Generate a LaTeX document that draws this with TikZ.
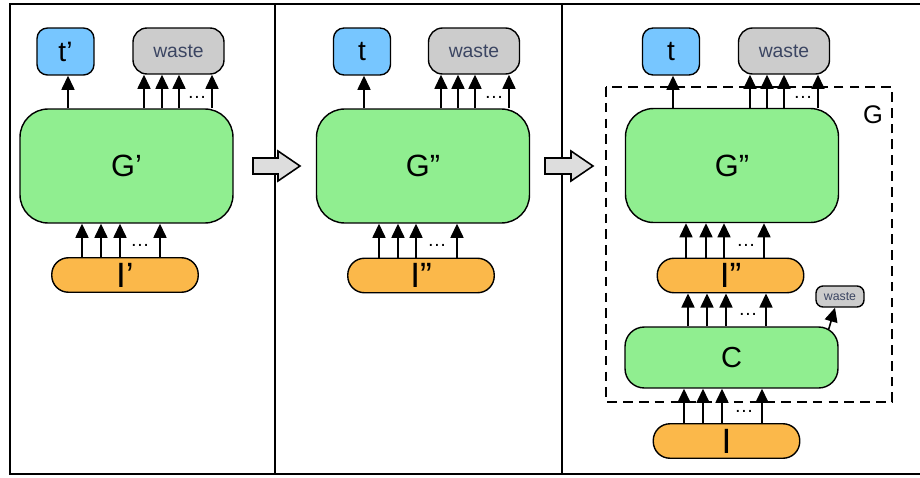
\documentclass[tikz,border=0pt]{standalone}
\usepackage{fontspec}
\setmainfont{Liberation Sans}
\usepackage{tikz}
\usetikzlibrary{arrows.meta}
\definecolor{gatefill}{HTML}{90EE90}
\definecolor{targetfill}{HTML}{77C6FF}
\definecolor{wastefill}{HTML}{CCCCCC}
\definecolor{wastetext}{HTML}{3B4562}
\definecolor{inputfill}{HTML}{FBB84A}
\definecolor{stepfill}{HTML}{DDDDDD}

\begin{document}
\begin{tikzpicture}[
    x=0.02cm, y=-0.02cm,
    line width=0.8pt,
    gate/.style={draw,fill=gatefill,rounded corners=16pt,inner sep=0pt,minimum width=4.26cm,minimum height=2.28cm,font=\fontsize{17.5}{17.5}\selectfont},
    target/.style={draw,fill=targetfill,rounded corners=6pt,inner sep=0pt,minimum width=1.14cm,minimum height=0.94cm,font=\fontsize{16}{16}\selectfont},
    waste/.style={draw,fill=wastefill,rounded corners=8pt,inner sep=0pt,minimum width=1.82cm,minimum height=0.92cm,text=wastetext,font=\fontsize{11}{11}\selectfont},
    input/.style={draw,fill=inputfill,rounded corners=9.5pt,inner sep=0pt,minimum width=2.93cm,minimum height=0.69cm,font=\fontsize{20}{20}\selectfont},
    flow/.style={-{Triangle[length=8pt,width=7.4pt]},line width=0.9pt},
    more/.style={inner sep=0pt,font=\fontsize{11}{11}\selectfont},
    stepbox/.style={draw,fill=stepfill,line width=0.9pt,line join=miter}
  ]
    \useasboundingbox (0,0) rectangle (920,477);

    % frame and panel dividers
    \draw[line width=1.2pt] (925,4) -- (10,4) -- (10,474) -- (925,474);
    \draw[line width=1pt] (275,4) -- (275,474);
    \draw[line width=1pt] (562,4) -- (562,474);

    % step arrows
    \draw[stepbox] (253,158) -- (278,158) -- (278,151) -- (300,166) -- (278,181) -- (278,174) -- (253,174) -- cycle;
    \draw[stepbox] (545,158) -- (571,158) -- (571,151) -- (593,166) -- (571,181) -- (571,174) -- (545,174) -- cycle;

    % first panel
    \node[target] (tA) at (65.5,51.5) {t’};
    \node[waste] (wA) at (178.5,51) {waste};
    \node[gate] (gA) at (126.5,166) {G’};
    \node[input] (iA) at (125,275) {I’};
    \draw[flow] (68,0 |- gA.north) -- (68,0 |- tA.south);
    \foreach \x in {144,162,179,212}
      \draw[flow] (\x,0 |- gA.north) -- (\x,0 |- wA.south);
    \foreach \x in {82,101,120,160}
      \draw[flow] (\x,0 |- iA.north) -- (\x,0 |- gA.south);
    \node[more] (dA1) at (197,97) {\dots};
    \node[more] (dA2) at (140,245) {\dots};

    % second panel
    \node[target] (tB) at (362,51.5) {t};
    \node[waste] (wB) at (474,51) {waste};
    \node[gate] (gB) at (423,166) {G”};
    \node[input] (iB) at (421,275.5) {I”};
    \draw[flow] (364,0 |- gB.north) -- (364,0 |- tB.south);
    \foreach \x in {441,458,475,509}
      \draw[flow] (\x,0 |- gB.north) -- (\x,0 |- wB.south);
    \foreach \x in {379,398,416,457}
      \draw[flow] (\x,0 |- iB.north) -- (\x,0 |- gB.south);
    \node[more] (dB1) at (494,97) {\dots};
    \node[more] (dB2) at (437,245) {\dots};

    % third panel
    \draw[dashed,dash pattern=on 5.5pt off 3.5pt,line width=0.9pt] (606,87) rectangle (892,402);
    \node[font=\fontsize{14.5}{14.5}\selectfont] (gLabel) at (873,115) {G};
    \node[target] (tC) at (671,51.5) {t};
    \node[waste] (wC) at (784,51) {waste};
    \node[gate] (gC) at (732,165.5) {G”};
    \node[input] (iC2) at (730.5,275.5) {I”};
    \node[gate,rounded corners=11pt,minimum height=1.22cm,font=\fontsize{16.5}{16.5}\selectfont] (cC) at (731.5,357.5) {C};
    \node[input] (iC) at (726.5,441) {I};
    \node[waste,rounded corners=4pt,minimum width=0.96cm,minimum height=0.42cm,font=\fontsize{7}{7}\selectfont] (wS) at (840,296.5) {waste};
    \draw[flow] (673,0 |- gC.north) -- (673,0 |- tC.south);
    \foreach \x in {750,767,784,818}
      \draw[flow] (\x,0 |- gC.north) -- (\x,0 |- wC.south);
    \foreach \x in {686,706,724,764}
      \draw[flow] (\x,0 |- iC2.north) -- (\x,0 |- gC.south);
    \foreach \x in {688,707,726,766}
      \draw[flow] (\x,0 |- cC.north) -- (\x,0 |- iC2.south);
    \foreach \x in {684,703,722,762}
      \draw[flow] (\x,0 |- iC.north) -- (\x,0 |- cC.south);
    \draw[flow] ([shift={(-10,3)}]cC.north east) -- ([shift={(-5,0)}]wS.south);
    \node[more] (dC1) at (803,97) {\dots};
    \node[more] (dC2) at (746,245) {\dots};
    \node[more] (dC3) at (748,314) {\dots};
    \node[more] (dC4) at (744,411) {\dots};
  \end{tikzpicture}
\end{document}
